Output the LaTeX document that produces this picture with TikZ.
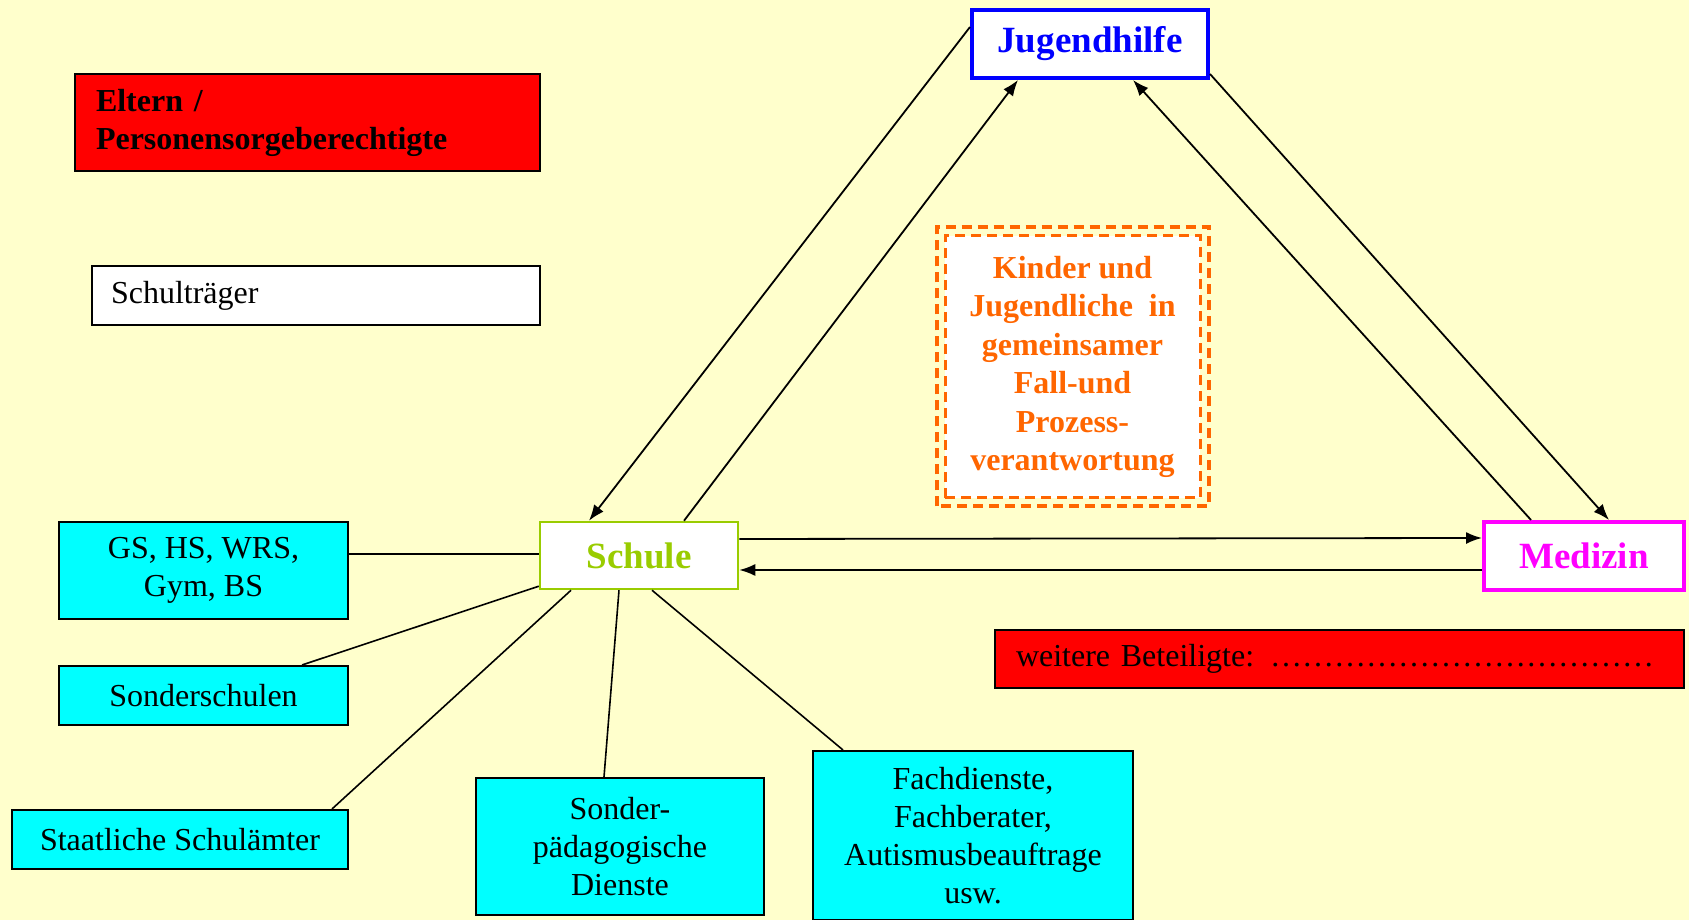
\documentclass[tikz,border=0pt]{standalone}
\usepackage{fontspec}
\setmainfont{Liberation Serif}
\usepackage{tikz}
\usetikzlibrary{positioning, arrows.meta}
\definecolor{PaperYellow}{RGB}{255,255,204}
\definecolor{BoxCyan}{RGB}{0,255,255}
\definecolor{BoxRed}{RGB}{255,0,0}
\definecolor{SchuleGreen}{RGB}{153,204,0}
\definecolor{CaseOrange}{RGB}{255,102,0}
\definecolor{JugendBlue}{RGB}{0,0,255}
\definecolor{MedMagenta}{RGB}{255,0,255}
\newcommand{\fourdots}{\char"2026\char"2026\char"2026\char"2026}

\begin{document}
\begin{tikzpicture}[x=1pt, y=1pt,
  box/.style={rectangle, draw=black, line width=2pt, inner sep=0pt, align=center, font=\fontsize{32}{38}\selectfont},
  cyanbox/.style={box, fill=BoxCyan},
  partner/.style={rectangle, fill=white, line width=4pt, inner sep=0pt, font=\fontsize{37}{40}\selectfont\bfseries},
  arrow/.style={-{Latex[length=16pt,width=12pt]}, line width=1.8pt},
  link/.style={line width=1.6pt}
]
\fill[PaperYellow] (0,0) rectangle (1689,920);
\useasboundingbox (0,0) rectangle (1689,920);

\node[partner, draw=JugendBlue, text=JugendBlue, minimum width=236, minimum height=68] (jugend) at (1090,876) {Jugendhilfe};
\node[partner, draw=SchuleGreen, text=SchuleGreen, line width=2.5pt, minimum width=198, minimum height=67] (schule) at (639,364.5) {Schule};
\node[partner, draw=MedMagenta, text=MedMagenta, minimum width=200, minimum height=68] (medizin) at (1584,364) {Medizin};

\node[box, fill=BoxRed, font=\fontsize{32}{38}\selectfont\bfseries, align=left, text width=423, minimum width=465, minimum height=97] (eltern) at (307.5,797.5) {Eltern /\\Personensorgeberechtigte};
\node[box, fill=white, align=left, text width=410, minimum width=448, minimum height=59] (traeger) at (316,624.5) {Schulträger};
\node[box, fill=BoxRed, align=left, text width=647, minimum width=689, minimum height=58] (weitere) at (1339.5,261) {weitere Beteiligte: \fourdots\fourdots\fourdots};

\node[fill=white, draw=CaseOrange, line width=3pt, dash pattern=on 10pt off 6pt, minimum width=255, minimum height=262, inner sep=0pt,
  text=CaseOrange, align=center, font=\fontsize{32}{38.5}\selectfont\bfseries] (fall) at (1072.5,553)
  {Kinder und\\Jugendliche\ \ in\\gemeinsamer\\Fall-und\\Prozess-\\verantwortung};
\draw[CaseOrange, line width=4pt, dash pattern=on 10pt off 6pt] ([shift={(-7pt,-7pt)}]fall.south west) rectangle ([shift={(7pt,7pt)}]fall.north east);

\node[cyanbox, minimum width=289, minimum height=97] (gs) at (203.5,349.5) {GS, HS, WRS,\\Gym, BS};
\node[cyanbox, minimum width=289, minimum height=59] (sonder) at (203.5,224.5) {Sonderschulen};
\node[cyanbox, minimum width=336, minimum height=59] (staat) at (180,80.5) {Staatliche Schulämter};
\node[cyanbox, minimum width=288, minimum height=137] (sopaed) at (620,73.5) {Sonder-\\pädagogische\\Dienste};
\node[cyanbox, minimum width=320, minimum height=169] (fach) at (973,84.5) {Fachdienste,\\Fachberater,\\Autismusbeauftrage\\usw.};

% Dreieck Schule - Jugendhilfe - Medizin
\draw[arrow] ([yshift=17pt]jugend.west) -- ([xshift=-50pt]schule.north);
\draw[arrow] ([xshift=45pt]schule.north) -- ([xshift=-72pt]jugend.south);
\draw[arrow] ([yshift=6pt]jugend.south east) -- ([xshift=25pt]medizin.north);
\draw[arrow] ([xshift=-53pt]medizin.north) -- ([xshift=43pt]jugend.south);
\draw[arrow] ([yshift=16.5pt]schule.east) -- ([yshift=18pt]medizin.west);
\draw[arrow] ([yshift=-14pt]medizin.west) -- ([yshift=-14.5pt]schule.east);

% Schularten und Dienste
\draw[link] ([yshift=16.5pt]gs.east) -- ([yshift=1.5pt]schule.west);
\draw[link] ([xshift=98.5pt]sonder.north) -- ([yshift=4pt]schule.south west);
\draw[link] ([xshift=152pt]staat.north) -- ([xshift=-68pt]schule.south);
\draw[link] ([xshift=-16pt]sopaed.north) -- ([xshift=-20pt]schule.south);
\draw[link] ([xshift=-130pt]fach.north) -- ([xshift=13pt]schule.south);
\end{tikzpicture}
\end{document}
